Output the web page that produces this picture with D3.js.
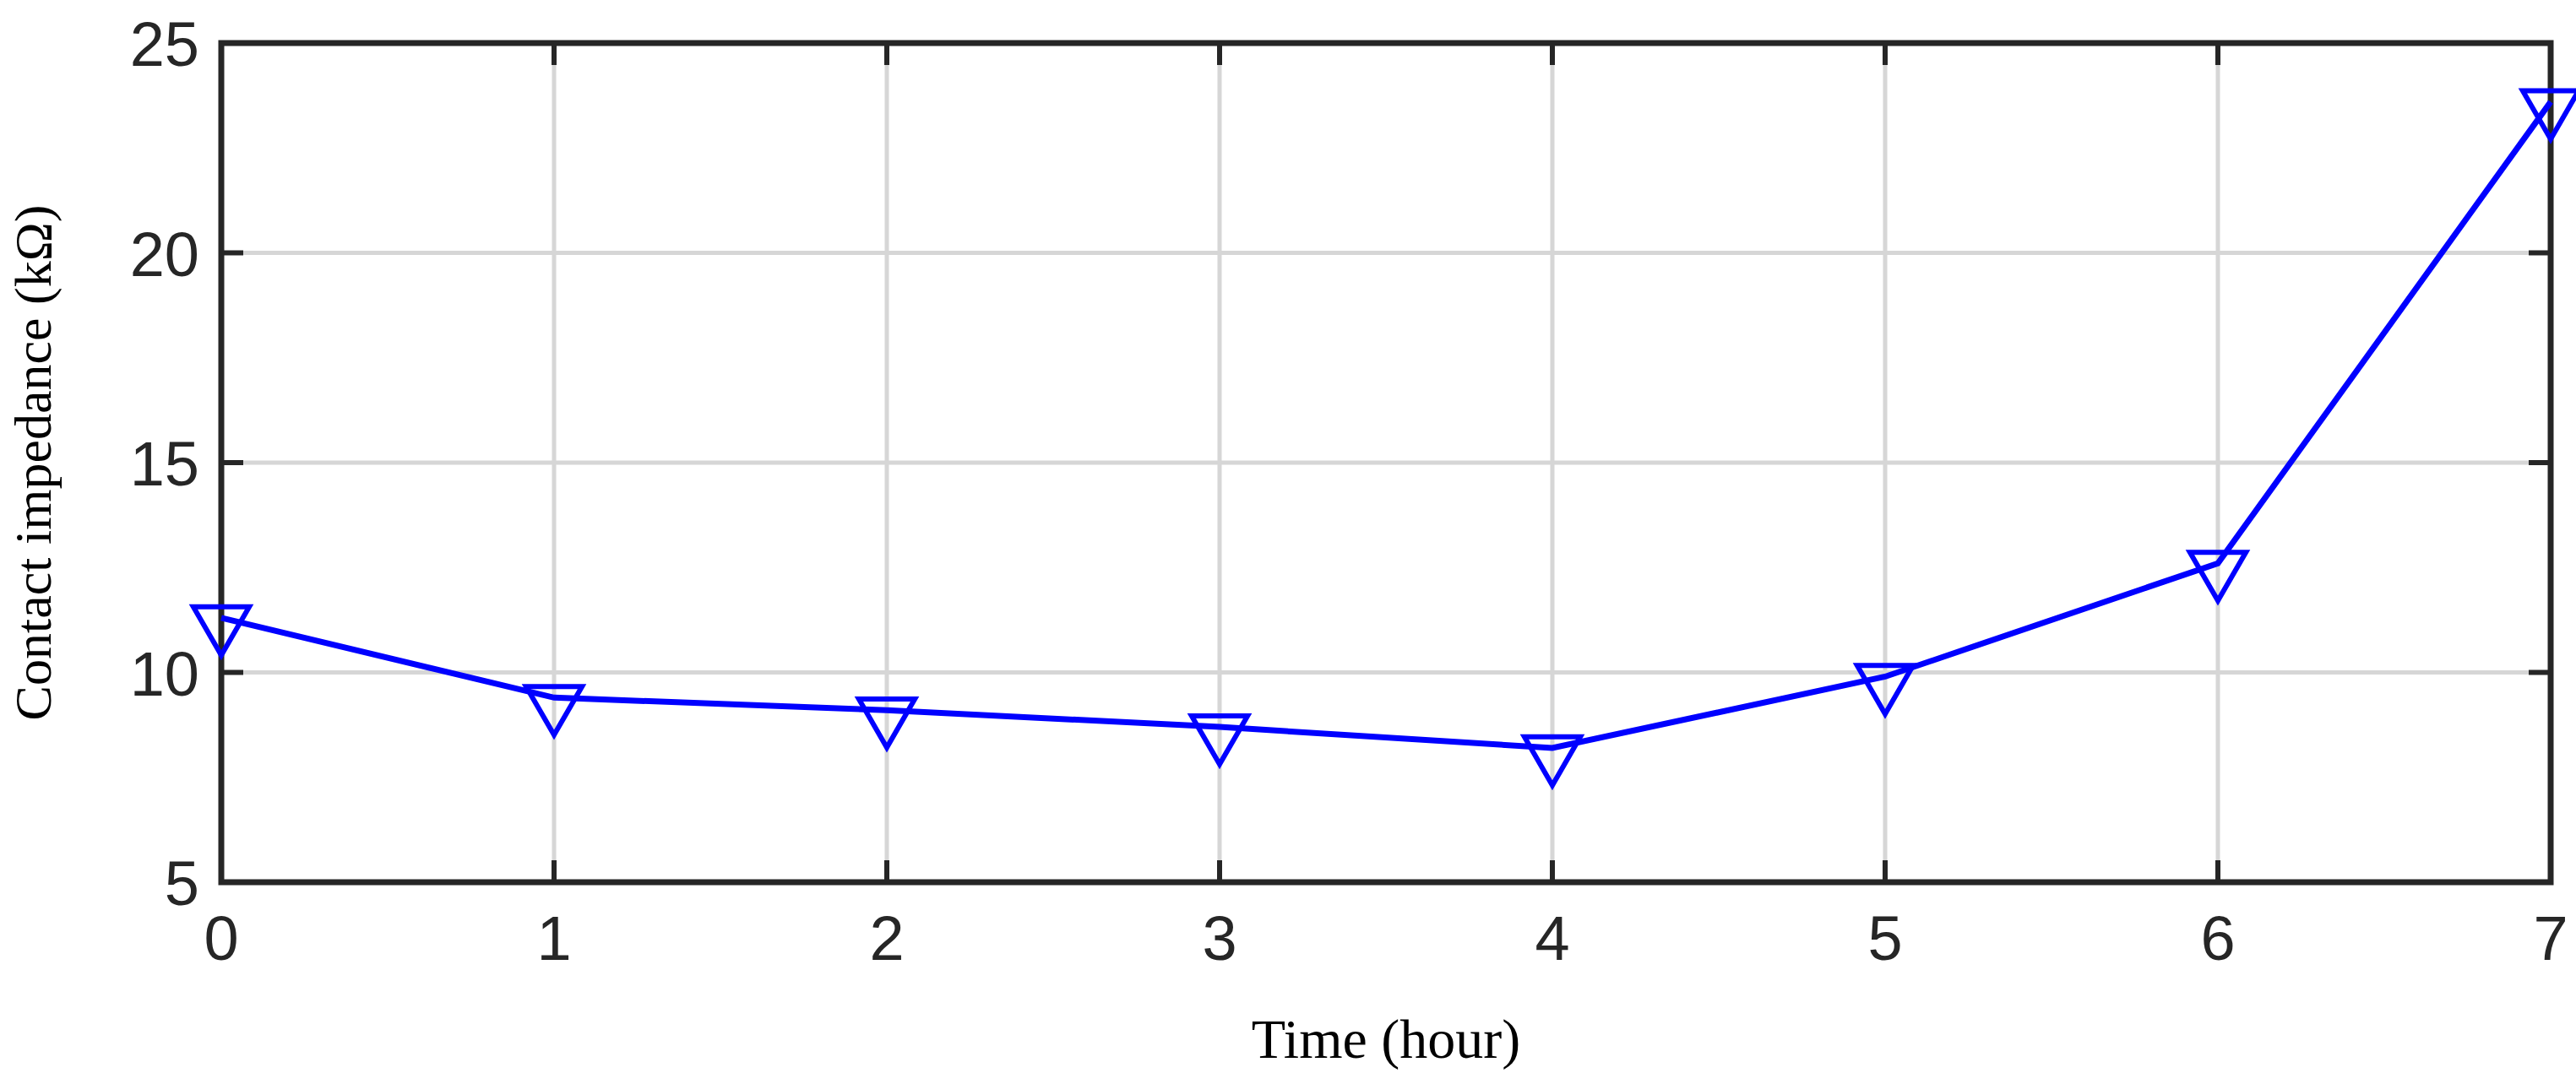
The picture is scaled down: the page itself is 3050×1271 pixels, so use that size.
<!DOCTYPE html>
<html>
<head>
<meta charset="utf-8">
<script src="https://cdn.jsdelivr.net/npm/d3@7"></script>
<style>
  body { margin: 0; background: #fff; }
</style>
</head>
<body>
<div id="chart"></div>
<script>
// datos
const hours = [0, 1, 2, 3, 4, 5, 6, 7];
const impedance = [11.3, 9.4, 9.1, 8.7, 8.2, 9.9, 12.6, 23.6];
const yTicks = [5, 10, 15, 20, 25];

const W = 3050, H = 1271;
const m = { left: 262, right: 30, top: 51, bottom: 226 };

const svg = d3.select("#chart").append("svg")
  .attr("width", W).attr("height", H);

const x = d3.scaleLinear().domain([0, 7]).range([m.left, W - m.right]);
const y = d3.scaleLinear().domain([5, 25]).range([H - m.bottom, m.top]);

// grid
svg.append("g").selectAll("line").data(hours.slice(1, -1)).join("line")
  .attr("x1", d => x(d)).attr("x2", d => x(d))
  .attr("y1", y(25)).attr("y2", y(5))
  .attr("stroke", "#d6d6d6").attr("stroke-width", 5);
svg.append("g").selectAll("line").data(yTicks.slice(1, -1)).join("line")
  .attr("x1", x(0)).attr("x2", x(7))
  .attr("y1", d => y(d)).attr("y2", d => y(d))
  .attr("stroke", "#d6d6d6").attr("stroke-width", 5);

// ticks hacia adentro en los 4 lados
const tk = 26;
const tg = svg.append("g").attr("stroke", "#262626").attr("stroke-width", 6);
hours.forEach(h => {
  tg.append("line").attr("x1", x(h)).attr("x2", x(h)).attr("y1", y(5)).attr("y2", y(5) - tk);
  tg.append("line").attr("x1", x(h)).attr("x2", x(h)).attr("y1", y(25)).attr("y2", y(25) + tk);
});
yTicks.forEach(v => {
  tg.append("line").attr("x1", x(0)).attr("x2", x(0) + tk).attr("y1", y(v)).attr("y2", y(v));
  tg.append("line").attr("x1", x(7)).attr("x2", x(7) - tk).attr("y1", y(v)).attr("y2", y(v));
});

// marco
svg.append("rect")
  .attr("x", x(0)).attr("y", y(25))
  .attr("width", x(7) - x(0)).attr("height", y(5) - y(25))
  .attr("fill", "none").attr("stroke", "#262626").attr("stroke-width", 7);

// etiquetas de ticks
svg.append("g").selectAll("text").data(hours).join("text")
  .attr("x", d => x(d)).attr("y", y(5) + 92)
  .attr("text-anchor", "middle")
  .style("font-family", "Liberation Sans, Arial, sans-serif")
  .style("font-size", "74px").attr("fill", "#262626")
  .text(d => d);
svg.append("g").selectAll("text").data(yTicks).join("text")
  .attr("x", x(0) - 26).attr("y", d => y(d) + 27)
  .attr("text-anchor", "end")
  .style("font-family", "Liberation Sans, Arial, sans-serif")
  .style("font-size", "74px").attr("fill", "#262626")
  .text(d => d);

// títulos de ejes
svg.append("text")
  .attr("x", (x(0) + x(7)) / 2).attr("y", H - 18)
  .attr("text-anchor", "middle")
  .style("font-family", "Liberation Serif, Times New Roman, serif")
  .style("font-size", "66px").attr("fill", "#000")
  .text("Time (hour)");
svg.append("text")
  .attr("transform", `translate(60, ${(y(5) + y(25)) / 2}) rotate(-90)`)
  .attr("text-anchor", "middle")
  .style("font-family", "Liberation Serif, Times New Roman, serif")
  .style("font-size", "62px").attr("fill", "#000")
  .text("Contact impedance (kΩ)");

// línea y marcadores
const pts = hours.map((h, i) => [h, impedance[i]]);
svg.append("path").datum(pts)
  .attr("d", d3.line().x(d => x(d[0])).y(d => y(d[1])))
  .attr("fill", "none").attr("stroke", "#0000ff").attr("stroke-width", 7);

const tri = d3.symbol().type(d3.symbolTriangle).size(1900);
svg.append("g").selectAll("path").data(pts).join("path")
  .attr("d", tri)
  .attr("transform", d => `translate(${x(d[0])},${y(d[1]) + 6}) rotate(180)`)
  .attr("fill", "none").attr("stroke", "#0000ff").attr("stroke-width", 6);
</script>
</body>
</html>
